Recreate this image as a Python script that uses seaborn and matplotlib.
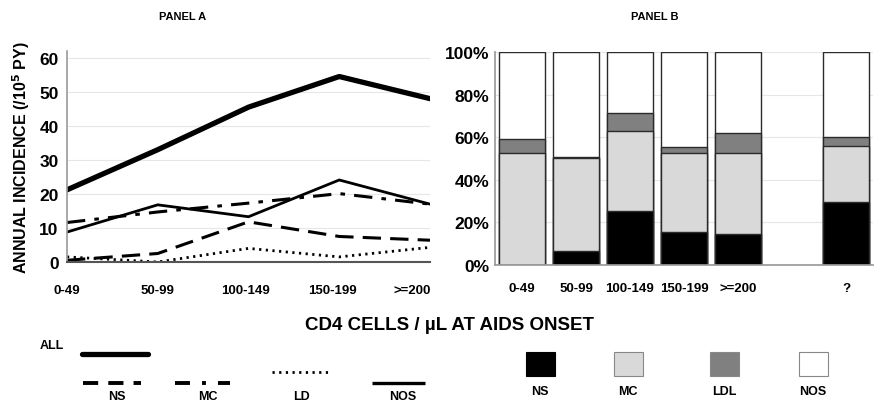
import numpy as np
import pandas as pd
import matplotlib
matplotlib.use("Agg")
import matplotlib.pyplot as plt
import seaborn as sns
from matplotlib.patches import Rectangle
from matplotlib.lines import Line2D

# ---------------- data ----------------
cd4_cats = ["0-49", "50-99", "100-149", "150-199", ">=200"]
inc_all = [21.2, 33.0, 45.5, 54.5, 48.0]
inc_ns = [0.5, 2.5, 11.8, 7.5, 6.4]
inc_mc = [11.6, 14.7, 17.3, 20.1, 17.0]
inc_ld = [1.5, 0.0, 4.0, 1.5, 4.3]
inc_nos = [8.8, 16.8, 13.3, 24.1, 17.0]

bar_cats = ["0-49", "50-99", "100-149", "150-199", ">=200", " ", "?"]
bar_present = ["0-49", "50-99", "100-149", "150-199", ">=200", "?"]
pct_ns = [0.0, 6.6, 25.4, 15.4, 14.6, 29.5]
pct_mc = [52.5, 43.7, 37.3, 37.3, 37.9, 26.6]
pct_ldl = [6.7, 0.4, 8.8, 2.9, 9.7, 3.9]
pct_nos = [40.8, 49.3, 28.5, 44.4, 37.8, 40.0]

FONT = ["Liberation Sans", "DejaVu Sans"]

sns.set_theme(style="white")
plt.rcParams["font.family"] = FONT
plt.rcParams["font.weight"] = "bold"
plt.rcParams["text.color"] = "black"
plt.rcParams["axes.labelcolor"] = "black"
plt.rcParams["xtick.color"] = "black"
plt.rcParams["ytick.color"] = "black"

W, H = 875, 402
fig = plt.figure(figsize=(W / 100, H / 100), dpi=100)


def fx(px):
    return px / W


def fy(py):
    return 1 - py / H


# ---------------- Panel A ----------------
axA = fig.add_axes([fx(67), fy(263), fx(430) - fx(67), fy(52) - fy(263)])
series = [
    (inc_all, dict(color="black", lw=3.8, ls="-")),
    (inc_nos, dict(color="black", lw=2.0, ls="-")),
    (inc_mc, dict(color="black", lw=2.2, ls=(0, (6, 3, 1.5, 3)))),
    (inc_ns, dict(color="black", lw=2.2, ls=(0, (6, 3)))),
    (inc_ld, dict(color="black", lw=2.0, ls=(0, (0.8, 1.6)))),
]
xpos = np.arange(len(cd4_cats))
for vals, st in series:
    sns.lineplot(x=xpos, y=vals, ax=axA, color=st["color"], linewidth=st["lw"],
                 linestyle=st["ls"], legend=False)
axA.set_xlim(0, 4)
axA.set_ylim(0, 62)
axA.set_yticks([0, 10, 20, 30, 40, 50, 60])
axA.set_xticks([0, 1, 1.97, 2.93, 3.8])
axA.set_xticklabels(cd4_cats, fontsize=9.5, fontweight="bold")
axA.tick_params(axis="y", labelsize=12.5, length=0, pad=6)
axA.tick_params(axis="x", length=0, pad=16)
for lab in axA.get_yticklabels():
    lab.set_fontweight("bold")
axA.yaxis.grid(True, color="#e6e6e6", lw=0.8)
axA.set_axisbelow(True)
for s in ["top", "right"]:
    axA.spines[s].set_visible(False)
axA.spines["left"].set_color("#9a9a9a")
axA.spines["left"].set_linewidth(1.2)
axA.spines["bottom"].set_color("#555555")
axA.spines["bottom"].set_linewidth(1.5)
axA.set_xlabel("")
axA.set_ylabel("ANNUAL INCIDENCE (/10$^{\\mathbf{5}}$ PY)", fontsize=11.5,
               fontweight="bold", labelpad=5)

# ---------------- Panel B ----------------
axB = fig.add_axes([fx(495), fy(266), fx(873) - fx(495), fy(53) - fy(266)])
df = pd.DataFrame({"cat": bar_present, "NS": pct_ns, "MC": pct_mc,
                   "LDL": pct_ldl, "NOS": pct_nos})
df["c_ns"] = df["NS"] / 100
df["c_mc"] = (df["NS"] + df["MC"]) / 100
df["c_ldl"] = (df["NS"] + df["MC"] + df["LDL"]) / 100
df["c_nos"] = (df["NS"] + df["MC"] + df["LDL"] + df["NOS"]) / 100
layers = [("c_nos", "white"), ("c_ldl", "#808080"), ("c_mc", "#d9d9d9"), ("c_ns", "black")]
for col, color in layers:
    sns.barplot(data=df, x="cat", y=col, order=bar_cats, ax=axB, color=color,
                width=0.85, edgecolor="#2a2a2a", linewidth=1.0, saturation=1,
                errorbar=None)
axB.set_xlim(-0.5, len(bar_cats) - 0.5)
axB.set_ylim(0, 1.0)
axB.set_yticks([0, 0.2, 0.4, 0.6, 0.8, 1.0])
axB.set_yticklabels(["0%", "20%", "40%", "60%", "80%", "100%"], fontsize=12.5,
                    fontweight="bold")
axB.set_xticks(range(len(bar_cats)))
axB.set_xticklabels(bar_cats, fontsize=9.5, fontweight="bold")
axB.tick_params(axis="y", length=0, pad=4)
axB.tick_params(axis="x", length=0, pad=12)
axB.yaxis.grid(True, color="#e6e6e6", lw=0.8)
axB.set_axisbelow(True)
axB.set_xlabel("")
axB.set_ylabel("")
for s in ["top", "right"]:
    axB.spines[s].set_visible(False)
axB.spines["left"].set_color("#9a9a9a")
axB.spines["bottom"].set_color("#9a9a9a")

# ---------------- titles ----------------
fig.text(fx(183), fy(17), "PANEL A", ha="center", va="center", fontsize=8,
         fontweight="bold")
fig.text(fx(655), fy(17), "PANEL B", ha="center", va="center", fontsize=8,
         fontweight="bold")
fig.text(fx(450), fy(326), "CD4 CELLS / \u00b5L AT AIDS ONSET", ha="center",
         va="center", fontsize=13.5, fontweight="bold")

# ---------------- legends ----------------
axL = fig.add_axes([0, 0, 1, 1])
axL.set_xlim(0, W)
axL.set_ylim(H, 0)
axL.axis("off")
axL.text(40, 346, "ALL", fontsize=9, fontweight="bold", ha="left", va="center")
axL.add_line(Line2D([82, 148], [355, 355], color="black", lw=3.8))
line_leg = [
    ("NS", 83, 141, 384, 117, dict(lw=2.8, ls=(0, (3.9, 2.6)))),
    ("MC", 175, 230, 384, 208, dict(lw=2.8, ls=(0, (3.85, 3.1, 1.0, 3.1)))),
    ("LD", 272, 328, 373, 302, dict(lw=2.0, ls=(0, (0.8, 1.6)))),
    ("NOS", 372, 425, 384, 403, dict(lw=2.4, ls="-")),
]
for name, x0, x1, yy, lx, st in line_leg:
    axL.add_line(Line2D([x0, x1], [yy, yy], color="black", lw=st["lw"], ls=st["ls"],
                        solid_capstyle="butt", dash_capstyle="butt"))
    axL.text(lx, 397, name, fontsize=9, fontweight="bold",
             ha="center", va="center")
box_leg = [("NS", "black", 540), ("MC", "#d9d9d9", 628), ("LDL", "#808080", 724),
           ("NOS", "white", 813)]
for name, color, cx in box_leg:
    axL.add_patch(Rectangle((cx - 14.5, 353), 29, 24, facecolor=color,
                            edgecolor="#888888" if color != "black" else "black",
                            lw=0.8))
    axL.text(cx, 392, name, fontsize=9, fontweight="bold", ha="center", va="center")

fig.savefig("out.png", dpi=100)
